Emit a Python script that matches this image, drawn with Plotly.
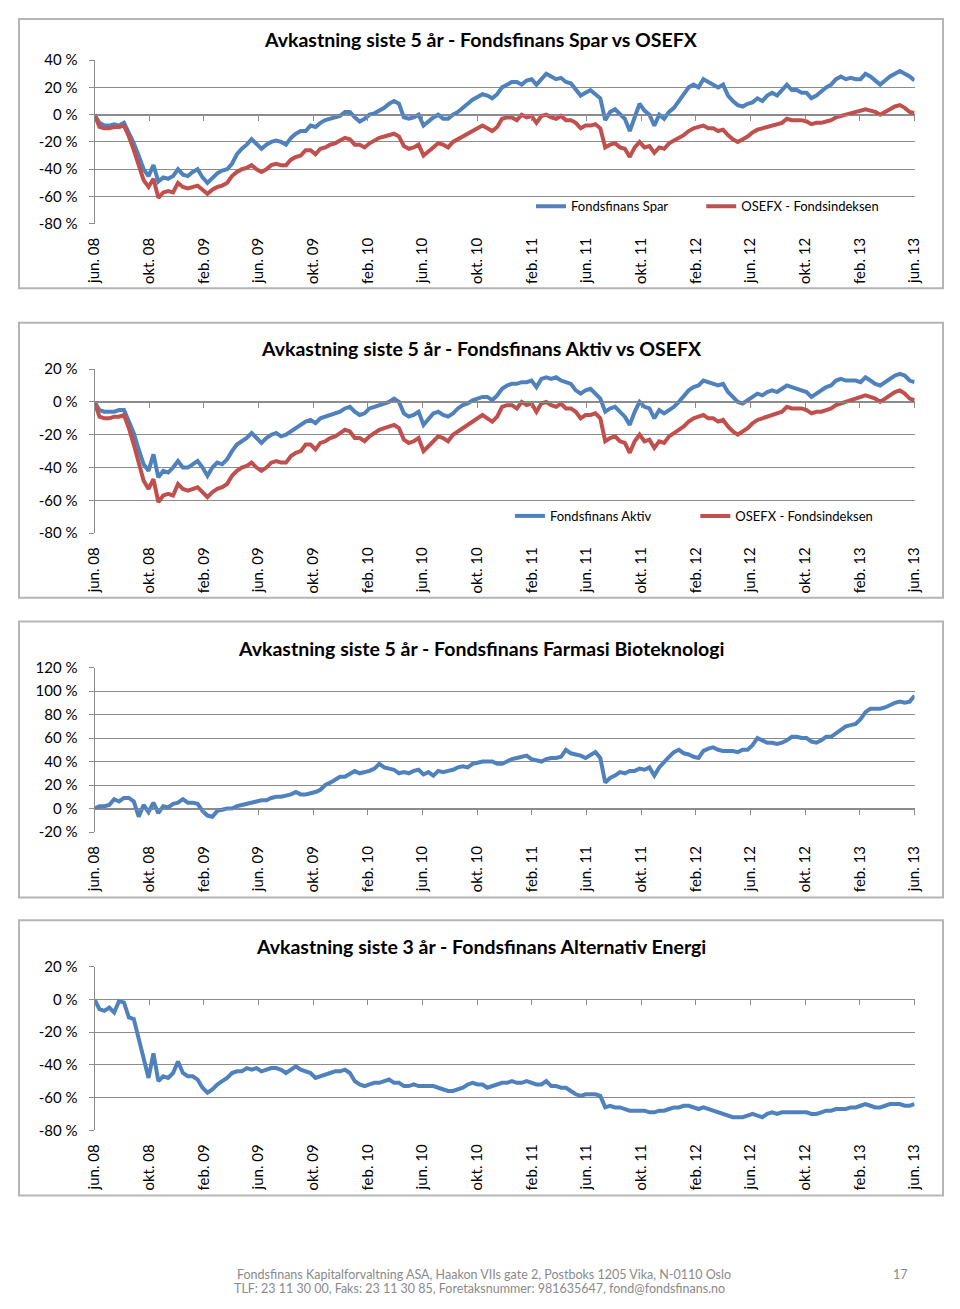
import numpy as np
import plotly.graph_objects as go

# ---------------- data ----------------
tick_labels = ["jun. 08", "okt. 08", "feb. 09", "jun. 09", "okt. 09", "feb. 10",
               "jun. 10", "okt. 10", "feb. 11", "jun. 11", "okt. 11", "feb. 12",
               "jun. 12", "okt. 12", "feb. 13", "jun. 13"]
tick_months = list(range(0, 61, 4))   # months since jun. 08

# returns in %, sampled evenly from jun. 08 to jun. 13
spar = [0, -6, -8, -8, -7, -8, -6, -13, -21, -30, -40, -45, -37, -49, -46, -47, -45, -40, -44, -45,
        -42, -40, -46, -50, -46, -43, -41, -40, -36, -29, -25, -22, -18, -22, -25, -22, -20, -19, -20, -22,
        -17, -14, -12, -12, -8, -9, -6, -4, -3, -2, -1, 2, 2, -2, -5, -3, 0, 1, 3, 5,
        8, 10, 8, -2, -3, -2, 0, -8, -5, -2, 0, -3, -3, 0, 2, 5, 8, 11, 13,
        15, 14, 12, 15, 20, 22, 24, 24, 22, 25, 26, 22, 26, 30, 28, 26, 27, 24, 23, 18,
        14, 16, 18, 15, 12, -4, 2, 4, 0, -3, -12, -2, 8, 3, 0, -8, 0, -3, 2, 5,
        10, 16, 20, 22, 20, 26, 24, 22, 20, 22, 14, 10, 7, 6, 8, 9, 12, 10, 14, 16,
        14, 18, 22, 18, 18, 16, 16, 12, 14, 17, 20, 22, 26, 28, 26, 27, 26, 26, 30, 28,
        25, 22, 25, 28, 30, 32, 30, 28, 25]

osefx = [0, -9, -10, -10, -9, -9, -8, -16, -26, -36, -48, -53, -47, -61, -57, -56, -57, -50, -53, -54,
         -53, -52, -55, -58, -55, -53, -52, -50, -45, -42, -40, -39, -37, -40, -42, -40, -37, -36, -37, -37,
         -33, -31, -30, -26, -26, -29, -25, -24, -22, -21, -19, -17, -18, -22, -22, -24, -21, -19, -17, -16,
         -15, -14, -16, -23, -25, -24, -22, -30, -27, -24, -21, -22, -24, -20, -18, -16, -14, -12, -10,
         -8, -10, -12, -9, -3, -2, -2, -4, 0, -2, -1, -6, -1, 0, -2, -3, -1, -4, -4, -6,
         -10, -8, -8, -7, -10, -24, -22, -21, -24, -25, -31, -24, -20, -24, -23, -28, -24, -25, -21, -19,
         -17, -15, -12, -10, -9, -8, -10, -10, -12, -11, -15, -18, -20, -18, -16, -13, -11, -10, -9, -8,
         -7, -6, -3, -4, -4, -4, -5, -7, -6, -6, -5, -4, -2, -1, 0, 1, 2, 3, 4, 3,
         2, 0, 2, 4, 6, 7, 5, 2, 1]

aktiv = [0, -5, -6, -6, -6, -5, -5, -12, -19, -29, -38, -42, -32, -46, -42, -43, -40, -36, -40, -40,
         -38, -36, -40, -45, -40, -37, -38, -35, -30, -26, -24, -22, -19, -22, -25, -22, -20, -19, -21, -20,
         -18, -16, -14, -12, -11, -13, -10, -9, -8, -7, -6, -4, -3, -6, -8, -7, -4, -3, -2, -1,
         0, 2, 0, -7, -9, -8, -6, -14, -10, -7, -6, -8, -9, -7, -4, -2, -1, 1, 2,
         3, 3, 1, 4, 8, 10, 11, 11, 12, 12, 13, 9, 14, 15, 14, 15, 13, 12, 11, 7,
         5, 7, 8, 5, 2, -6, -4, -3, -6, -9, -14, -6, 0, -3, -4, -10, -5, -7, -5, -3,
         0, 4, 7, 9, 10, 13, 12, 11, 10, 11, 6, 3, 0, -1, 1, 3, 5, 4, 6, 7,
         6, 8, 10, 9, 8, 7, 6, 3, 5, 7, 9, 10, 13, 14, 13, 13, 13, 12, 15, 13,
         11, 10, 12, 14, 16, 17, 16, 13, 12]

farmasi = [0, 2, 2, 3, 8, 6, 9, 9, 6, -7, 3, -3, 5, -4, 2, 1, 4, 5, 8, 5,
           5, 4, -2, -6, -7, -2, -1, 0, 0, 2, 3, 4, 5, 6, 7, 7, 9, 10, 10, 11,
           12, 14, 12, 12, 13, 14, 16, 20, 22, 25, 27, 27, 30, 32, 30, 31, 32, 34, 38, 35,
           34, 33, 30, 31, 30, 32, 33, 29, 31, 28, 32, 31, 32, 33, 35, 36, 35, 38, 39,
           40, 40, 40, 38, 38, 40, 42, 43, 44, 45, 42, 41, 40, 42, 43, 43, 44, 50, 47, 46,
           45, 43, 46, 48, 43, 22, 26, 28, 31, 30, 32, 32, 34, 33, 35, 28, 35, 40, 44, 48,
           50, 47, 46, 44, 43, 49, 51, 52, 50, 49, 49, 49, 48, 50, 50, 54, 60, 58, 56, 56,
           55, 56, 58, 61, 61, 60, 60, 57, 56, 58, 61, 61, 64, 67, 70, 71, 72, 76, 82, 85,
           85, 85, 86, 88, 90, 91, 90, 91, 96]

energi = [0, -6, -7, -5, -8, -1, -2, -11, -12, -24, -38, -48, -33, -50, -47, -48, -45, -38, -45, -47,
          -47, -49, -54, -57, -55, -52, -50, -48, -45, -44, -44, -42, -43, -42, -44, -43, -42, -42, -43, -45,
          -43, -41, -43, -44, -45, -48, -47, -46, -45, -44, -44, -43, -45, -50, -52, -53, -52, -51, -51, -50,
          -49, -51, -51, -53, -53, -52, -53, -53, -53, -53, -54, -55, -56, -56, -55, -54, -52, -51, -52,
          -52, -54, -53, -52, -51, -51, -50, -51, -51, -50, -51, -52, -52, -50, -53, -53, -54, -54, -56, -58,
          -59, -58, -58, -58, -59, -66, -65, -66, -66, -67, -68, -68, -68, -68, -69, -69, -68, -68, -67, -66,
          -66, -65, -65, -66, -67, -66, -67, -68, -69, -70, -71, -72, -72, -72, -71, -70, -71, -72, -70, -69,
          -70, -69, -69, -69, -69, -69, -69, -70, -70, -69, -68, -68, -67, -67, -67, -66, -66, -65, -64, -65,
          -66, -66, -65, -64, -64, -64, -65, -65, -64]

titles = ["Avkastning siste 5 år - Fondsfinans Spar vs OSEFX",
          "Avkastning siste 5 år - Fondsfinans Aktiv vs OSEFX",
          "Avkastning siste 5 år - Fondsfinans Farmasi Bioteknologi",
          "Avkastning siste 3 år - Fondsfinans Alternativ Energi"]
footer_lines = ["Fondsfinans Kapitalforvaltning ASA, Haakon VIIs gate 2, Postboks 1205 Vika, N-0110 Oslo",
                "TLF: 23 11 30 00, Faks: 23 11 30 85, Foretaksnummer: 981635647, fond@fondsfinans.no"]
page_number = "17"

# ---------------- styling / layout ----------------
PAGE_W, PAGE_H = 960, 1309
OFF = 8                                   # default page margin around the figure
W, H = PAGE_W - 2 * OFF, PAGE_H - 2 * OFF
BLUE, RED = "#4F81BD", "#C0504D"
GRID = "#8C8C8C"
FONT = "Lato"


def fx(p):
    """page x pixel -> paper fraction"""
    return (p - OFF) / W


def fy(p):
    """page y pixel -> paper fraction"""
    return 1 - (p - OFF) / H


# legend entries: (legend id, y centre px, left px)
panels = [
    dict(box=(3, 282), plot=(50.7, 216.7), yr=(-80, 40), title_y=30,
         series=[("Fondsfinans Spar", spar, BLUE, ("legend", 199, 531)),
                 ("OSEFX - Fondsindeksen", osefx, RED, ("legend2", 199, 704.5))]),
    dict(box=(317, 596), plot=(364, 530.5), yr=(-80, 20), title_y=343,
         series=[("Fondsfinans Aktiv", aktiv, BLUE, ("legend3", 513, 509.5)),
                 ("OSEFX - Fondsindeksen", osefx, RED, ("legend4", 513, 698.5))]),
    dict(box=(620, 900), plot=(666.7, 833.5), yr=(-20, 120), title_y=647,
         series=[("Fondsfinans Farmasi Bioteknologi", farmasi, BLUE, None)]),
    dict(box=(923, 1202), plot=(970, 1136), yr=(-80, 20), title_y=950,
         series=[("Fondsfinans Alternativ Energi", energi, BLUE, None)]),
]

fig = go.Figure()
layout = {}
shapes = []
annotations = []

X0, X1 = 86, 922
for k, p in enumerate(panels):
    n = k + 1
    xa = "x" if n == 1 else f"x{n}"
    ya = "y" if n == 1 else f"y{n}"
    xo = f"x{n + 4}"
    xkey = "xaxis" if n == 1 else f"xaxis{n}"
    ykey = "yaxis" if n == 1 else f"yaxis{n}"
    okey = f"xaxis{n + 4}"

    for name, vals, col, leg in p["series"]:
        months = np.linspace(0, 60, len(vals))
        tr = dict(x=months, y=vals, mode="lines", name=name,
                  line=dict(color=col, width=4), xaxis=xa, yaxis=ya,
                  hoverinfo="skip", showlegend=leg is not None)
        if leg:
            lname, ly, lx = leg
            tr["legend"] = lname
            layout[lname] = dict(orientation="h", x=fx(lx), y=fy(ly), xanchor="left",
                                 yanchor="middle", bgcolor="rgba(0,0,0,0)",
                                 font=dict(family=FONT, size=13, color="#000"))
        fig.add_trace(go.Scatter(**tr))
    # helper so the zero-line axis (with tick marks) is created
    v0 = p["series"][0][1]
    fig.add_trace(go.Scatter(x=np.linspace(0, 60, len(v0)), y=v0, mode="lines",
                             xaxis=xo, yaxis=ya, opacity=0, showlegend=False,
                             hoverinfo="skip", line=dict(width=0.1)))

    top, bot = p["plot"]
    d0, d1 = fy(bot), fy(top)
    lo, hi = p["yr"]
    zero_pos = d0 + (0 - lo) / (hi - lo) * (d1 - d0)
    yt = list(range(lo, hi + 1, 20))

    layout[xkey] = dict(domain=[fx(X0), fx(X1)], range=[0, 60], anchor=ya,
                        tickmode="array", tickvals=tick_months, ticktext=tick_labels,
                        tickangle=-90, ticks="", showline=False, showgrid=False,
                        zeroline=False, ticklabelstandoff=10,
                        tickfont=dict(family=FONT, size=15, color="#000"))
    layout[okey] = dict(overlaying=xa, anchor="free", position=zero_pos, range=[0, 60],
                        tickmode="array", tickvals=tick_months, ticks="outside",
                        ticklen=5, tickcolor=GRID, showline=True, linecolor=GRID,
                        linewidth=1, showticklabels=False, showgrid=False, zeroline=False)
    layout[ykey] = dict(domain=[d0, d1], range=[lo, hi], anchor=xa,
                        tickmode="array", tickvals=yt, ticktext=[f"{v} %" for v in yt],
                        ticks="outside", ticklen=5, tickcolor=GRID, showline=True,
                        linecolor=GRID, linewidth=1, showgrid=True, gridcolor=GRID,
                        gridwidth=1, zeroline=False, ticklabelstandoff=8,
                        tickfont=dict(family=FONT, size=15, color="#000"))

    b0, b1 = p["box"]
    shapes.append(dict(type="rect", xref="paper", yref="paper",
                       x0=fx(max(3, OFF + 1)), x1=fx(min(958, PAGE_W - OFF - 1)),
                       y0=fy(b1), y1=fy(max(b0, OFF + 1)),
                       line=dict(color="#B5B5B5", width=2),
                       fillcolor="rgba(0,0,0,0)", layer="below"))
    annotations.append(dict(text=f"<b>{titles[k]}</b>", xref="paper", yref="paper",
                            x=fx(480), y=fy(p["title_y"]), xanchor="center", yanchor="middle",
                            showarrow=False, font=dict(family=FONT, size=19.5, color="#000")))

annotations.append(dict(text=footer_lines[0], xref="paper", yref="paper", x=fx(483), y=fy(1282),
                        xanchor="center", yanchor="middle", showarrow=False,
                        font=dict(family=FONT, size=12.5, color="#8A8A8A")))
annotations.append(dict(text=footer_lines[1], xref="paper", yref="paper", x=fx(478), y=fy(1296),
                        xanchor="center", yanchor="middle", showarrow=False,
                        font=dict(family=FONT, size=12.5, color="#8A8A8A")))
annotations.append(dict(text=page_number, xref="paper", yref="paper", x=fx(908), y=fy(1282),
                        xanchor="center", yanchor="middle", showarrow=False,
                        font=dict(family=FONT, size=12.5, color="#8A8A8A")))

fig.update_layout(width=W, height=H, margin=dict(l=0, r=0, t=0, b=0),
                  paper_bgcolor="white", plot_bgcolor="white",
                  font=dict(family=FONT), shapes=shapes, annotations=annotations,
                  **layout)

fig.write_html("out.html", config={"displayModeBar": False})
